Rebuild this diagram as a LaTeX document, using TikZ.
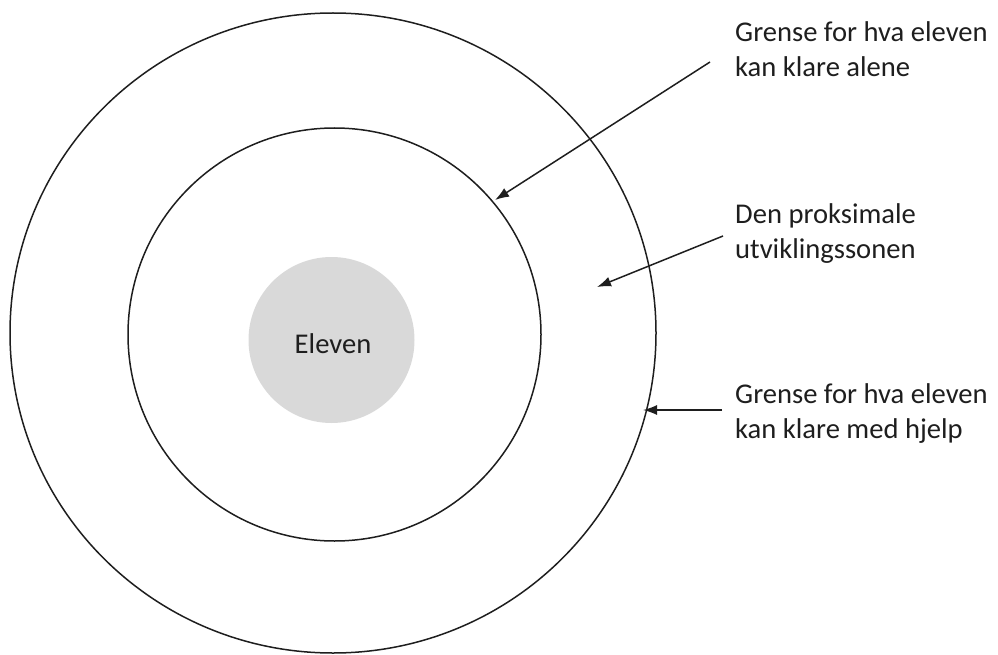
\documentclass[tikz,border=0pt]{standalone}
\usepackage{fontspec}
\setmainfont{Carlito}
\usetikzlibrary{arrows.meta}
\definecolor{ringgray}{RGB}{217,217,217}
\definecolor{inkc}{RGB}{30,30,30}
\tikzset{
  ring/.style={draw=inkc, line width=1.5pt},
  label/.style={font=\fontsize{28.6}{35}\selectfont, text=inkc, align=left, inner sep=0pt, anchor=base west},
  pointer/.style={draw=inkc, line width=1.5pt, -{Latex[length=14pt,width=10pt]}}
}
\begin{document}
\begin{tikzpicture}[x=1pt,y=-1pt]
\useasboundingbox (0,0) rectangle (998,655);
\draw[ring] (333,333) ellipse [x radius=323, y radius=320];
\draw[ring] (334.5,334.5) circle [radius=206.5];
\node[circle, fill=ringgray, minimum size=166pt, inner sep=0pt] (eleven) at (331.5,340) {};
\node[font=\fontsize{28.6}{35}\selectfont, text=inkc, inner sep=0pt] (elevent) at (333,344) {Eleven};
\node[label] (l1) at (735,77) {Grense for hva eleven\\kan klare alene};
\node[label] (l2) at (735,258) {Den proksimale\\utviklingssonen};
\node[label] (l3) at (735,438) {Grense for hva eleven\\kan klare med hjelp};
\coordinate (a1s) at (710,62);
\coordinate (a1e) at (495,200);
\coordinate (a2s) at (723,236);
\coordinate (a2e) at (597,287);
\coordinate (a3s) at (722,410);
\coordinate (a3e) at (643,410);
\draw[pointer] (a1s) -- (a1e);
\draw[pointer] (a2s) -- (a2e);
\draw[pointer] (a3s) -- (a3e);
\end{tikzpicture}
\end{document}
